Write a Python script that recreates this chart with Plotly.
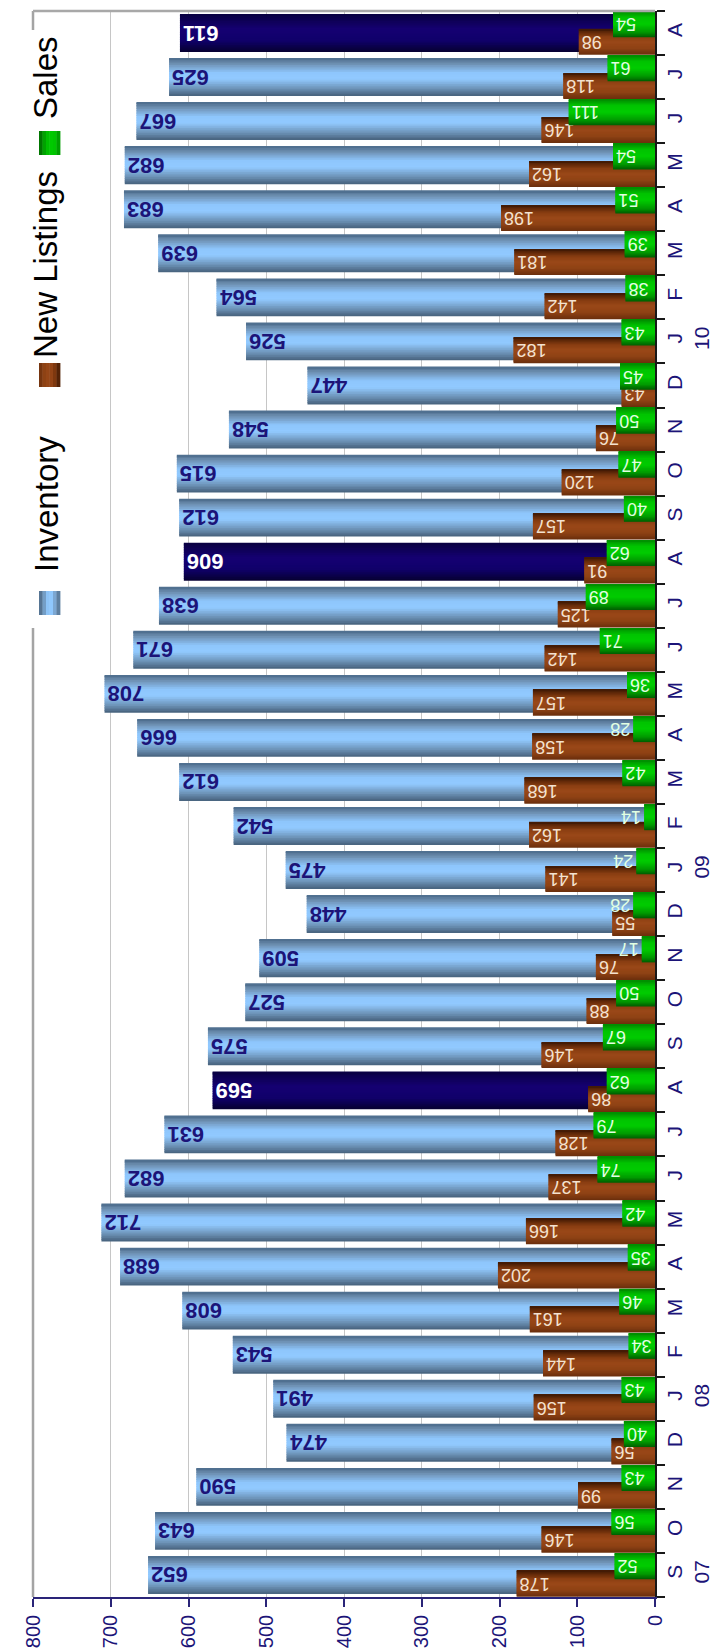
import plotly.graph_objects as go

# ---------------- data ----------------
categories = [
    "Sep 07", "Oct 07", "Nov 07", "Dec 07", "Jan 08", "Feb 08", "Mar 08", "Apr 08",
    "May 08", "Jun 08", "Jul 08", "Aug 08", "Sep 08", "Oct 08", "Nov 08", "Dec 08",
    "Jan 09", "Feb 09", "Mar 09", "Apr 09", "May 09", "Jun 09", "Jul 09", "Aug 09",
    "Sep 09", "Oct 09", "Nov 09", "Dec 09", "Jan 10", "Feb 10", "Mar 10", "Apr 10",
    "May 10", "Jun 10", "Jul 10", "Aug 10",
]
month_labels = [
    "S", "O", "N", "D", "J", "F", "M", "A", "M", "J", "J", "A",
    "S", "O", "N", "D", "J", "F", "M", "A", "M", "J", "J", "A",
    "S", "O", "N", "D", "J", "F", "M", "A", "M", "J", "J", "A",
]
year_labels = [
    "07", "", "", "", "08", "", "", "", "", "", "", "",
    "", "", "", "", "09", "", "", "", "", "", "", "",
    "", "", "", "", "10", "", "", "", "", "", "", "",
]
inventory = [652, 643, 590, 474, 491, 543, 608, 688, 712, 682, 631, 569,
             575, 527, 509, 448, 475, 542, 612, 666, 708, 671, 638, 606,
             612, 615, 548, 447, 526, 564, 639, 683, 682, 667, 625, 611]
new_listings = [178, 146, 99, 56, 156, 144, 161, 202, 166, 137, 128, 86,
                146, 88, 76, 55, 141, 162, 168, 158, 157, 142, 125, 91,
                157, 120, 76, 43, 182, 142, 181, 198, 162, 146, 118, 98]
sales = [52, 56, 43, 40, 43, 34, 46, 35, 42, 74, 79, 62,
         67, 50, 17, 28, 24, 14, 42, 28, 36, 71, 89, 62,
         40, 47, 50, 45, 43, 38, 39, 51, 54, 111, 61, 54]
highlighted = ["Aug 08", "Aug 09", "Aug 10"]
series_names = ["Inventory", "New Listings", "Sales"]
value_ticks = [0, 100, 200, 300, 400, 500, 600, 700, 800]

# ---------------- styling helpers ----------------
def hex2rgb(h):
    h = h.lstrip("#")
    return tuple(int(h[i:i + 2], 16) for i in (0, 2, 4))


def interp(stops, t):
    for (t0, c0), (t1, c1) in zip(stops[:-1], stops[1:]):
        if t0 <= t <= t1:
            f = 0 if t1 == t0 else (t - t0) / (t1 - t0)
            a, b = hex2rgb(c0), hex2rgb(c1)
            r = [round(a[k] + (b[k] - a[k]) * f) for k in range(3)]
            return "rgb(%d,%d,%d)" % tuple(r)
    return stops[-1][1]


BLUE = [(0, "#45607a"), (0.2, "#6d93b8"), (0.45, "#92caff"), (0.62, "#8ec6fc"),
        (0.85, "#6e90b2"), (1, "#4b6a8a")]
NAVY = [(0, "#060030"), (0.3, "#10006a"), (0.6, "#150072"), (1, "#080040")]
BROWN = [(0, "#6a2e0c"), (0.25, "#8e4214"), (0.5, "#9a4818"), (0.7, "#8a3e12"),
         (0.88, "#5e2808"), (1, "#3e1804")]
GREEN = [(0, "#005c00"), (0.2, "#009a00"), (0.5, "#00cc00"), (0.75, "#00c400"),
         (1, "#008c00")]

N = 22
FONT = "Liberation Sans, Arial, sans-serif"
NAVY_TXT = "#1c1478"

fig = go.Figure()


def add_gradient_bars(values, offset, width, stops_fn):
    step = width / N
    for i in range(N):
        t = (i + 0.5) / N
        w = step + (0.02 if i < N - 1 else 0)
        fig.add_trace(go.Bar(
            x=values, y=categories, orientation="h",
            offset=offset + i * step, width=w,
            marker=dict(color=stops_fn(t), line=dict(width=0)),
            hoverinfo="skip", showlegend=False,
        ))


def add_text_bars(values, offset, width, name, font, position):
    fig.add_trace(go.Bar(
        x=values, y=categories, orientation="h", name=name,
        offset=offset, width=width,
        marker=dict(color="rgba(0,0,0,0)", line=dict(width=0)),
        text=[str(v) for v in values], textposition=position,
        insidetextanchor="end", textangle=180,
        insidetextfont=font, outsidetextfont=font,
        cliponaxis=False, showlegend=False,
    ))


# Inventory (wide bars, gradient, highlighted Augusts)
add_gradient_bars(
    inventory, -0.43, 0.86,
    lambda t: [interp(NAVY if c in highlighted else BLUE, t) for c in categories])
add_text_bars(
    inventory, -0.43, 0.86, series_names[0],
    dict(family=FONT, size=22, color=["white" if c in highlighted else NAVY_TXT
                                       for c in categories], weight="bold"),
    "inside")

# New Listings
add_gradient_bars(new_listings, -0.495, 0.59, lambda t: interp(BROWN, t))
add_text_bars(new_listings, -0.495, 0.59, series_names[1],
              dict(family=FONT, size=18, color="#f4e2d0"), "auto")

# Sales
add_gradient_bars(sales, -0.095, 0.59, lambda t: interp(GREEN, t))
add_text_bars(sales, -0.095, 0.59, series_names[2],
              dict(family=FONT, size=18, color="#e2ffe2"), "auto")

# ---------------- layout ----------------
W, H = 718, 1652
ML, MR, MT, MB = 25, 71, 3, 63
PW, PH = W - ML - MR, H - MT - MB


def px(x):
    return (x - ML) / PW


def py(y):
    return (H - MB - y) / PH


ticktext = [m + ("<br>" + yv if yv else "") for m, yv in zip(month_labels, year_labels)]

fig.update_layout(
    width=W, height=H,
    margin=dict(l=ML, r=MR, t=MT, b=MB, pad=0),
    plot_bgcolor="white", paper_bgcolor="white",
    barmode="overlay", showlegend=False,
    font=dict(family=FONT),
    xaxis=dict(
        range=[800, 0], tickvals=value_ticks, ticktext=[str(v) for v in value_ticks],
        showgrid=True, gridcolor="#c6c6c6", gridwidth=1, zeroline=False,
        showline=True, linecolor="#2a2478", linewidth=1.5,
        ticks="outside", ticklen=8, tickwidth=1.5, tickcolor="#2a2478",
        tickangle=-90, tickfont=dict(family=FONT, size=20, color=NAVY_TXT),
    ),
    yaxis=dict(
        type="category", categoryorder="array", categoryarray=categories,
        tickvals=categories, ticktext=ticktext, side="right",
        range=[-0.5, len(categories) - 0.5],
        showgrid=False, zeroline=False,
        showline=True, linecolor="#181818", linewidth=1.5,
        ticks="outside", tickson="boundaries", ticklen=8, tickwidth=1.5,
        tickcolor="#181818",
        tickangle=-90, tickfont=dict(family=FONT, size=21, color=NAVY_TXT),
    ),
)

shapes = [
    dict(type="line", xref="paper", yref="paper", x0=0, x1=0, y0=0, y1=1,
         line=dict(color="#a4a4a4", width=2.5), layer="above"),
    dict(type="line", xref="paper", yref="paper", x0=0, x1=1, y0=1, y1=1,
         line=dict(color="#a8a8a8", width=2.5), layer="above"),
    dict(type="rect", xref="paper", yref="paper", x0=px(0), x1=px(66),
         y0=py(620), y1=py(22), fillcolor="white", line=dict(width=0), layer="above"),
]

legend_items = [
    (series_names[2], 70, 135, GREEN),
    (series_names[1], 257, 367, BROWN),
    (series_names[0], 496, 595, BLUE),
]
annotations = []
for name, ty, sy, stops in legend_items:
    annotations.append(dict(
        text=name, xref="paper", yref="paper", x=px(38), y=py(ty),
        xanchor="center", yanchor="middle", textangle=-90, showarrow=False,
        font=dict(family=FONT, size=33, color="black"),
    ))
    n = 6
    for k in range(n):
        x0 = 31 + k * 21 / n
        shapes.append(dict(
            type="rect", xref="paper", yref="paper",
            x0=px(x0), x1=px(x0 + 21 / n + 0.4), y0=py(sy + 12), y1=py(sy - 12),
            fillcolor=interp(stops, (k + 0.5) / n), line=dict(width=0), layer="above",
        ))

fig.update_layout(shapes=shapes, annotations=annotations)

fig.write_html("out.html")
